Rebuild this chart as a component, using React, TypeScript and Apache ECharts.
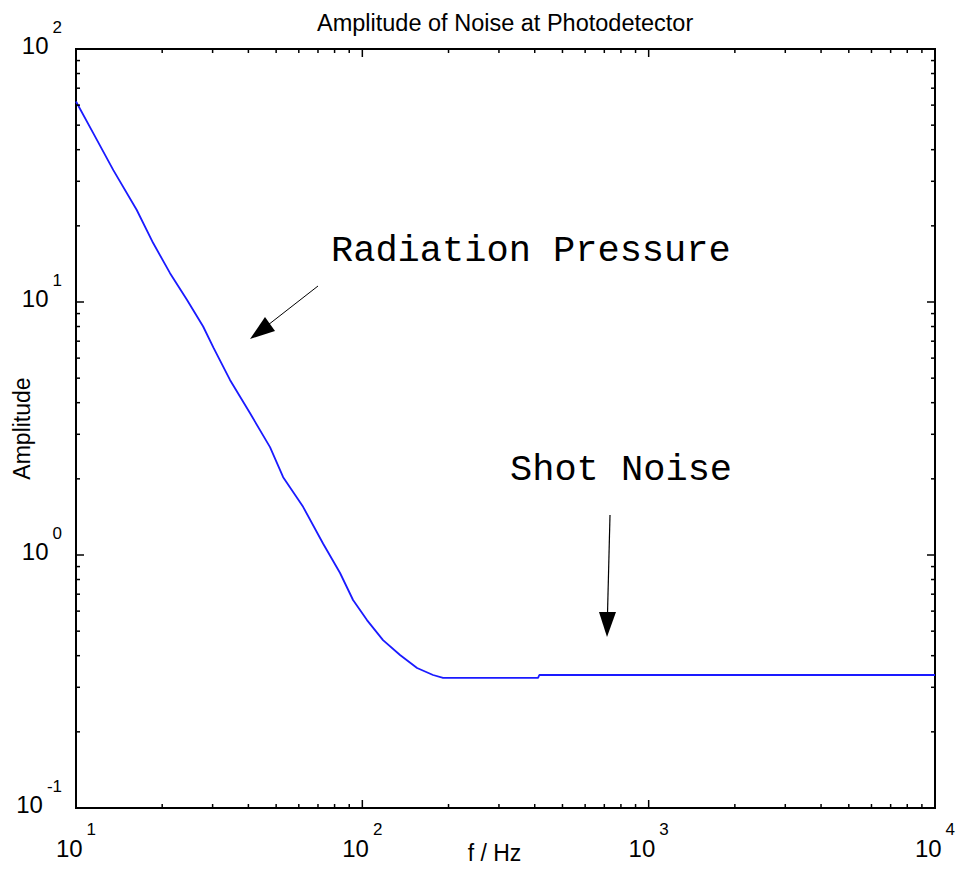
import React, { useEffect, useRef } from "react";
import * as echarts from "echarts";

// Data (frequency in Hz, amplitude)
const freq = [10, 11.5, 13.5, 16.3, 18.6, 21.3, 24.4, 27.8, 30.2, 34.5, 40.5, 47.6, 52.9, 62.1, 72.9, 83.6, 92.8, 103.8, 118.1, 135.4, 155.3, 176.6, 191.4, 411, 415, 10000];
const amp = [62, 46.4, 33.2, 23.1, 17.1, 13.0, 10.2, 8.0, 6.6, 4.92, 3.64, 2.67, 2.03, 1.55, 1.11, 0.849, 0.664, 0.553, 0.461, 0.4025, 0.3575, 0.3355, 0.327, 0.327, 0.3355, 0.3355];

const xMajor = [10, 100, 1000, 10000];
const xMinor = [20, 30, 40, 50, 60, 70, 80, 90, 200, 300, 400, 500, 600, 700, 800, 900, 2000, 3000, 4000, 5000, 6000, 7000, 8000, 9000];
const yMajor = [0.1, 1, 10, 100];
const yMinor = [0.2, 0.3, 0.4, 0.5, 0.6, 0.7, 0.8, 0.9, 2, 3, 4, 5, 6, 7, 8, 9, 20, 30, 40, 50, 60, 70, 80, 90];

const titleText = "Amplitude of Noise at Photodetector";
const xName = "f / Hz";
const yName = "Amplitude";
const note1 = "Radiation Pressure";
const note2 = "Shot Noise";

const SANS = "'Liberation Sans', Arial, sans-serif";
const MONO = "'Courier New', 'Liberation Mono', monospace";

function tickSeries(axis: "x" | "y", values: number[], len: number) {
  return {
    type: "custom",
    silent: true,
    clip: false,
    z: 10,
    data: values.map((v) => (axis === "x" ? [v, 1] : [100, v])),
    renderItem: (params: any, api: any) => {
      const cs = params.coordSys;
      const p = api.coord([api.value(0), api.value(1)]);
      const style = { stroke: "#000", lineWidth: 1.5 };
      if (axis === "x") {
        const yb = cs.y + cs.height;
        const yt = cs.y;
        return {
          type: "group",
          children: [
            { type: "line", shape: { x1: p[0], y1: yb, x2: p[0], y2: yb - len }, style },
            { type: "line", shape: { x1: p[0], y1: yt, x2: p[0], y2: yt + len }, style },
          ],
        };
      }
      const xl = cs.x;
      const xr = cs.x + cs.width;
      return {
        type: "group",
        children: [
          { type: "line", shape: { x1: xl, y1: p[1], x2: xl + len, y2: p[1] }, style },
          { type: "line", shape: { x1: xr, y1: p[1], x2: xr - len, y2: p[1] }, style },
        ],
      };
    },
  };
}

const labelRich = {
  b: { fontFamily: SANS, fontSize: 24, color: "#000", lineHeight: 54, verticalAlign: "middle" },
  s: { fontFamily: SANS, fontSize: 17, color: "#000", lineHeight: 17, verticalAlign: "top", padding: [0, 0, 0, 4] },
};

const fmt = (v: number) => `{b|10}{s|${Math.round(Math.log10(v))}}`;

export default function App() {
  const ref = useRef<HTMLDivElement>(null);
  useEffect(() => {
    if (!ref.current) return;
    const chart = echarts.init(ref.current, null, { renderer: "svg" });
    chart.setOption({
      animation: false,
      backgroundColor: "#fff",
      title: {
        text: titleText,
        left: 312,
        top: 6,
        textStyle: { fontFamily: SANS, fontSize: 23.5, fontWeight: "normal", color: "#000" },
      },
      grid: { left: 76, top: 49, right: 30, bottom: 61, show: true, borderColor: "#000", borderWidth: 2, backgroundColor: "#fff", containLabel: false, outerBoundsMode: "none" },
      xAxis: {
        type: "log",
        logBase: 10,
        min: 10,
        max: 10000,
        splitNumber: 3,
        axisLine: { show: false },
        axisTick: { show: false },
        splitLine: { show: false },
        axisLabel: { margin: 13, formatter: fmt, rich: labelRich },
        name: xName,
        nameLocation: "middle",
        nameGap: 33,
        nameMoveOverlap: false,
        nameTextStyle: { fontFamily: SANS, fontSize: 23, color: "#000", padding: [0, 22, 0, 0] },
      },
      yAxis: {
        type: "log",
        logBase: 10,
        min: 0.1,
        max: 100,
        splitNumber: 3,
        axisLine: { show: false },
        axisTick: { show: false },
        splitLine: { show: false },
        axisLabel: { margin: 14, formatter: fmt, rich: labelRich, padding: [0, 0, 7, 0] },
        name: yName,
        nameLocation: "middle",
        nameGap: 43,
        nameMoveOverlap: false,
        nameTextStyle: { fontFamily: SANS, fontSize: 23, color: "#000" },
      },
      series: [
        {
          type: "line",
          data: freq.map((f, i) => [f, amp[i]]),
          showSymbol: false,
          symbol: "none",
          lineStyle: { color: "#1a1aff", width: 1.8 },
          z: 5,
        },
        tickSeries("x", xMajor, 8),
        tickSeries("x", xMinor, 4),
        tickSeries("y", yMajor, 8),
        tickSeries("y", yMinor, 4),
      ],
      graphic: [
        { type: "text", left: 331, top: 232, style: { text: note1, font: `37px ${MONO}`, fill: "#000" } },
        { type: "text", left: 510, top: 451, style: { text: note2, font: `37px ${MONO}`, fill: "#000" } },
        { type: "line", shape: { x1: 318, y1: 286, x2: 268, y2: 325 }, style: { stroke: "#000", lineWidth: 1 } },
        { type: "polygon", shape: { points: [[250, 339], [265, 317], [275, 331]] }, style: { fill: "#000" } },
        { type: "line", shape: { x1: 610, y1: 515, x2: 607.5, y2: 614 }, style: { stroke: "#000", lineWidth: 1.2 } },
        { type: "polygon", shape: { points: [[599, 612], [616, 612], [607, 637]] }, style: { fill: "#000" } },
      ],
    });
    return () => chart.dispose();
  }, []);
  return <div ref={ref} style={{ position: "fixed", left: 0, top: 0, width: 965, height: 869 }} />;
}
